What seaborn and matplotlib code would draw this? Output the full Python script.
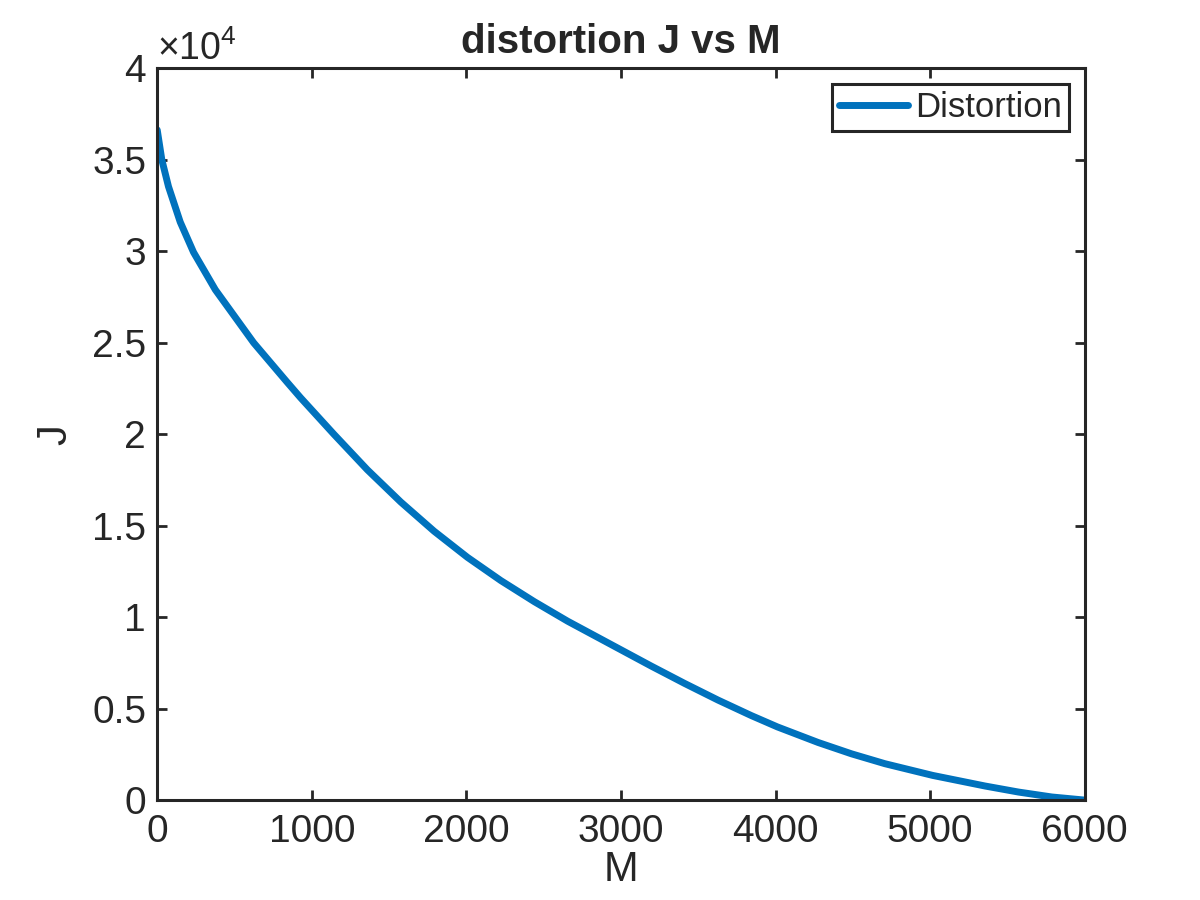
import matplotlib
matplotlib.use("Agg")
import matplotlib.pyplot as plt
from matplotlib.ticker import FuncFormatter
import seaborn as sns
import pandas as pd

# values
m_values = [0, 30, 73, 149, 235, 376, 624, 840, 927, 1143, 1359, 1575, 1791,
            2007, 2223, 2439, 2655, 2871, 3087, 3195, 3411, 3627, 3843, 4012,
            4275, 4491, 4707, 5016, 5355, 5571, 5787, 6000]
j_values = [36640, 35000, 33540, 31600, 29950, 27900, 25000, 22850, 22000,
            20000, 18060, 16300, 14700, 13270, 12000, 10850, 9780, 8800, 7820,
            7330, 6380, 5470, 4620, 4000, 3150, 2530, 1990, 1350, 770, 440,
            170, 0]
series_name = "Distortion"
x_ticks = [0, 1000, 2000, 3000, 4000, 5000, 6000]
y_ticks = [0, 5000, 10000, 15000, 20000, 25000, 30000, 35000, 40000]

df = pd.DataFrame({"M": m_values, "J": j_values, "series": series_name})

sns.set_theme(style="ticks")
plt.rcParams["font.family"] = ["Liberation Sans", "DejaVu Sans"]
plt.rcParams["mathtext.fontset"] = "custom"
plt.rcParams["mathtext.rm"] = "Liberation Sans"
plt.rcParams["mathtext.it"] = "Liberation Sans"

axis_color = "#262626"

fig, ax = plt.subplots(figsize=(12, 9), dpi=100)
fig.subplots_adjust(left=0.131, right=0.904, bottom=0.111, top=0.924)

sns.lineplot(data=df, x="M", y="J", hue="series", palette=["#0072BD"],
             linewidth=5, ax=ax, sort=False)

ax.set_xlim(0, 6000)
ax.set_ylim(0, 40000)
ax.set_xticks(x_ticks)
ax.set_yticks(y_ticks)
ax.yaxis.set_major_formatter(FuncFormatter(lambda v, p: f"{v / 1e4:g}"))

for side in ["top", "right", "bottom", "left"]:
    ax.spines[side].set_visible(True)
    ax.spines[side].set_linewidth(2.2)
    ax.spines[side].set_color(axis_color)
ax.tick_params(direction="in", length=7, width=2, colors=axis_color,
               labelsize=28, top=True, right=True, pad=8)
ax.tick_params(axis="x", pad=10)
ax.grid(False)

ax.set_xlabel("M", fontsize=30, color=axis_color, labelpad=0)
ax.set_ylabel("J", fontsize=30, color=axis_color, labelpad=12)
ax.set_title("distortion J vs M", fontsize=29, fontweight="bold", pad=11)

ax.text(0.0, 1.0, r"$\times10^{4}$", transform=ax.transAxes,
        fontsize=27, color=axis_color, ha="left", va="bottom")

leg = ax.legend(loc="upper right", fontsize=25, frameon=True, fancybox=False,
                handlelength=2.0, handletextpad=0.2, borderpad=0.2,
                borderaxespad=0.45)
leg.get_frame().set_edgecolor(axis_color)
leg.get_frame().set_linewidth(2.2)
leg.get_frame().set_alpha(1)
for line in leg.get_lines():
    line.set_linewidth(5)

fig.savefig("out.png", dpi=100)
plt.close(fig)
